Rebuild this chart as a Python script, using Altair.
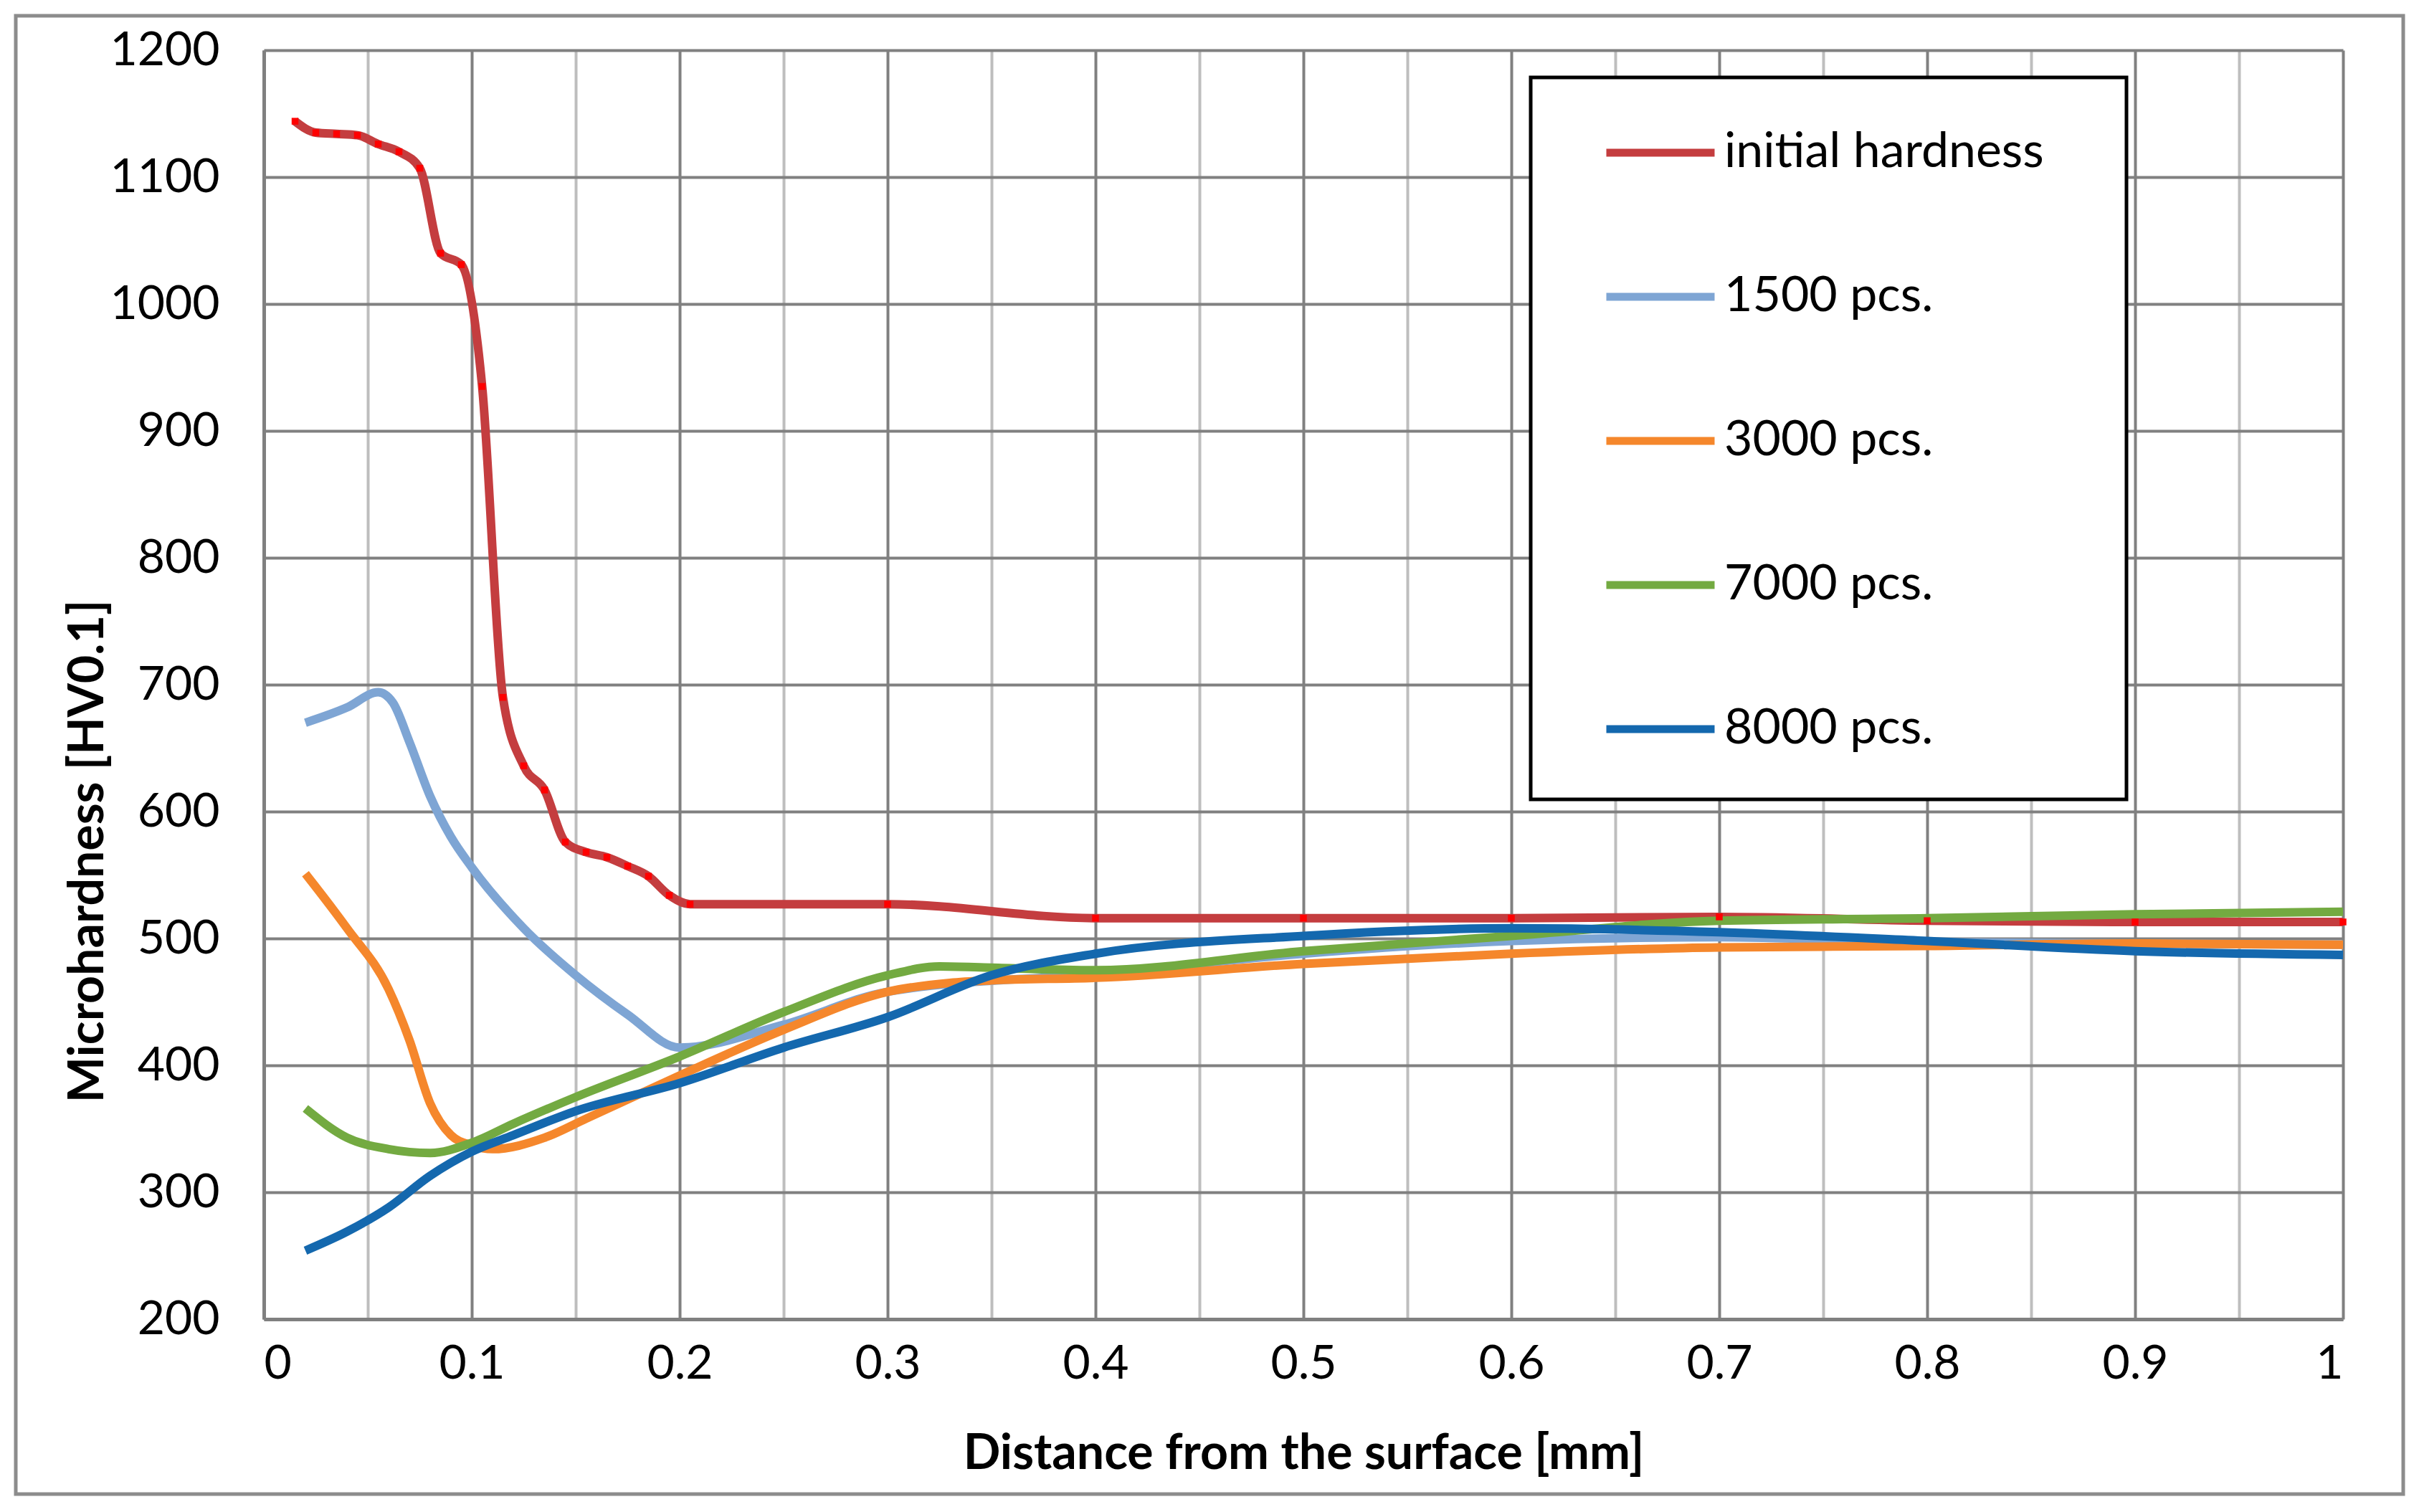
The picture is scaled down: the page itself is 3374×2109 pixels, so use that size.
import pandas as pd
import altair as alt

# series names (legend order) and their colours
series_names = ["initial hardness", "1500 pcs.", "3000 pcs.", "7000 pcs.", "8000 pcs."]
series_colors = ["#C43D3F", "#7EA5D4", "#F5872C", "#73AA41", "#1468AE"]

# values: distance [mm] -> microhardness [HV0.1]
x_initial = [0.015, 0.025, 0.035, 0.045, 0.055, 0.065, 0.075, 0.085, 0.095, 0.105,
             0.115, 0.125, 0.135, 0.145, 0.155, 0.165, 0.175, 0.185, 0.195, 0.205,
             0.3, 0.4, 0.5, 0.6, 0.7, 0.8, 0.9, 1.0]
y_initial = [1144, 1135, 1134, 1133, 1126, 1120, 1107, 1040, 1031, 935,
             690, 636, 617, 576, 568, 564, 557, 549, 534, 527,
             527, 516, 516, 516, 517, 514, 513, 513]

x_1500 = [0.02, 0.04, 0.055, 0.062, 0.07, 0.08, 0.09, 0.1, 0.125, 0.15, 0.175, 0.2,
          0.25, 0.3, 0.4, 0.5, 0.6, 0.7, 0.8, 0.9, 1.0]
y_1500 = [670, 682, 694, 686, 655, 612, 580, 556, 508, 471, 440, 414,
          432, 458, 472, 488, 498, 501, 497, 496, 495]

x_3000 = [0.02, 0.04, 0.06, 0.07, 0.08, 0.09, 0.1, 0.11, 0.135, 0.155, 0.2, 0.25,
          0.3, 0.33, 0.35, 0.4, 0.5, 0.6, 0.7, 0.8, 0.9, 1.0]
y_3000 = [551, 508, 460, 420, 370, 345, 337, 334, 343, 358, 392, 428,
          458, 465, 467, 469, 480, 488, 493, 494, 496, 495]

x_7000 = [0.02, 0.04, 0.06, 0.08, 0.1, 0.12, 0.15, 0.2, 0.25, 0.3, 0.325, 0.35,
          0.4, 0.5, 0.6, 0.7, 0.8, 0.9, 1.0]
y_7000 = [366, 343, 334, 331, 339, 354, 375, 407, 442, 471, 478, 477,
          475, 490, 502, 514, 516, 519, 521]

x_8000 = [0.02, 0.04, 0.06, 0.08, 0.1, 0.12, 0.15, 0.2, 0.25, 0.3, 0.35, 0.4,
          0.5, 0.6, 0.7, 0.8, 0.9, 1.0]
y_8000 = [254, 269, 288, 313, 332, 345, 364, 386, 414, 438, 471, 488,
          502, 508, 505, 498, 490, 487]

x_lists = [x_initial, x_1500, x_3000, x_7000, x_8000]
y_lists = [y_initial, y_1500, y_3000, y_7000, y_8000]

rows = []
for name, xs, ys in zip(series_names, x_lists, y_lists):
    for x, y in zip(xs, ys):
        rows.append({"series": name, "distance": x, "hardness": y})
df = pd.DataFrame(rows)

x_grid = [round(i * 0.05, 2) for i in range(21)]
y_grid = list(range(200, 1201, 100))

FONT = "Lato"

x_enc = alt.X(
    "distance:Q",
    scale=alt.Scale(domain=[0, 1], nice=False),
    axis=alt.Axis(
        values=x_grid,
        labelExpr="round(datum.value * 100) % 10 == 0 ? format(datum.value, '.1~f') : ''",
        title="Distance from the surface [mm]",
        titleY=188,
        titleBaseline="middle",
        gridColor={"condition": {"test": "round(datum.value * 100) % 10 == 0", "value": "#808080"},
                   "value": "#BEBEBE"},
        labelPadding=30,
    ),
)
y_enc = alt.Y(
    "hardness:Q",
    scale=alt.Scale(domain=[200, 1200], nice=False),
    axis=alt.Axis(
        values=y_grid,
        format="d",
        title="Microhardness [HV0.1]",
        titleX=-245,
        titleY=1117,
        titleAngle=270,
        titleAlign="center",
        titleBaseline="middle",
        gridColor="#808080",
        labelPadding=62,
    ),
)

lines = alt.Chart(df).mark_line(strokeWidth=12, interpolate="monotone").encode(
    x=x_enc,
    y=y_enc,
    color=alt.Color(
        "series:N",
        scale=alt.Scale(domain=series_names, range=series_colors),
        legend=alt.Legend(
            title=None,
            orient="none",
            legendX=1767,
            legendY=38,
            symbolType="stroke",
            symbolSize=22800,
            symbolStrokeWidth=11,
            symbolOffset=76,
            labelFontSize=68,
            labelFont=FONT,
            labelColor="black",
            labelOffset=8,
            labelLimit=0,
            rowPadding=86,
            padding=24,
        ),
    ),
)

markers = alt.Chart(df[df["series"] == "initial hardness"]).mark_point(
    shape="square", filled=True, color="#FF0000", size=90, opacity=1
).encode(x="distance:Q", y="hardness:Q")

one_row = pd.DataFrame({"a": [0]})

# outer frame round the whole figure
frame = alt.Chart(one_row).mark_rect(
    filled=False, stroke="#8C8C8C", strokeWidth=5
).encode(
    x=alt.value(-346), x2=alt.value(2984), y=alt.value(-48), y2=alt.value(2014)
)

# white box with black border behind the legend entries
legend_box = alt.Chart(one_row).mark_rect(
    fill="white", stroke="black", strokeWidth=5
).encode(
    x=alt.value(1767), x2=alt.value(2598), y=alt.value(38), y2=alt.value(1045)
)

chart = alt.layer(frame, legend_box, lines, markers).properties(
    width=2900,
    height=1770,
    autosize=alt.AutoSizeParams(type="none"),
    padding={"left": 360, "top": 62, "right": 90, "bottom": 250},
    background="white",
).configure_view(
    stroke=None
).configure_axis(
    labelFont=FONT,
    labelFontSize=66,
    labelColor="black",
    titleFont=FONT,
    titleFontSize=68,
    titleFontWeight="bold",
    titleColor="black",
    ticks=False,
    gridWidth=4,
    domainColor="#808080",
    domainWidth=5,
)

chart.save("out.html", embed_options={"renderer": "svg", "actions": False})
